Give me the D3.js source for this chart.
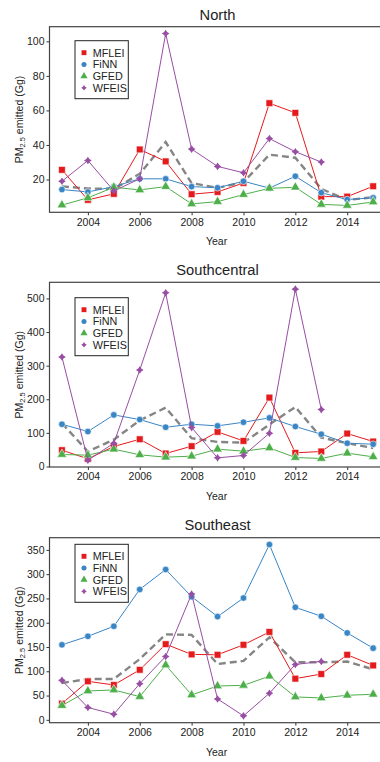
<!DOCTYPE html>
<html>
    <head>
        <title>PM2.5 emitted by region</title>
        <script src="https://d3js.org/d3.v7.min.js"></script>
        <style>
            body {
                margin: 0;
                background: white;
            }
            text {
                font-family: 'Liberation Sans', Arial, sans-serif;
                fill: #222;
            }
            .tick-label {
                font-size: 10.5px;
            }
            .title-text {
                font-size: 14.7px;
            }
            .legend-text {
                font-size: 10.8px;
            }
        </style>
    </head>
    <body>
        <svg id='canvas' width=380 height=762></svg>
        <script>
            // years on the x axis
            const years = [2003, 2004, 2005, 2006, 2007, 2008, 2009, 2010, 2011, 2012, 2013, 2014, 2015]
            const xTicks = [2004, 2006, 2008, 2010, 2012, 2014]
            const seriesNames = ['MFLEI', 'FiNN', 'GFED', 'WFEIS']

            // North (Gg), null = no estimate
            const northMFLEI = [25.6, 8.2, 11.7, 37.4, 30.5, 11.5, 12.8, 18, 64.2, 58.6, 10.1, 10.1, 16.1]
            const northFiNN = [14.2, 12.8, 15.9, 20.4, 20.4, 15.9, 15.2, 19, 15, 21.9, 12.4, 8.4, 9.4]
            const northGFED = [5.2, 9.4, 15.5, 14, 15.9, 5.9, 7.2, 11.3, 14.9, 15.5, 5.6, 5, 7]
            const northWFEIS = [19, 31, 13.4, 20.4, 104.5, 37.6, 27.6, 23.9, 43.7, 36.1, 30.1, null, null]
            const northMean = [16, 14.8, 14.5, 23.3, 41.7, 17.9, 15.2, 18.4, 34.4, 32.6, 14.6, 8.2, 9.7]
            const northTicks = [20, 40, 60, 80, 100]

            // Southcentral (Gg)
            const scMFLEI = [48.5, 22.8, 59.4, 81, 38.6, 60.4, 103, 76, 205, 40.6, 44.6, 98, 74.3]
            const scFiNN = [125.7, 104, 153.5, 139.6, 116.8, 125.7, 120.8, 131.7, 144.6, 118.8, 96, 69.3, 66.3]
            const scGFED = [35.6, 33.7, 51.5, 34.7, 27.7, 30.7, 51.5, 45.5, 55.4, 26.7, 23.8, 39.6, 28.7]
            const scWFEIS = [325.7, 18.8, 69.3, 287, 516.8, 115.8, 25.7, 32.7, 99, 527.7, 169.3, null, null]
            const scMean = [128.7, 44.6, 80, 137, 175, 84, 73, 71, 125, 177, 86, 69, 55]
            const scTicks = [0, 100, 200, 300, 400, 500]

            // Southeast (Gg)
            const seMFLEI = [33.5, 79.3, 71.8, 103, 155.8, 134.7, 134, 154.5, 181, 84.8, 94.3, 134, 112]
            const seFiNN = [154.5, 172, 192.7, 268.6, 309.6, 253.6, 212.6, 250.9, 361, 231.7, 213.3, 179, 147.6]
            const seGFED = [29.4, 59.5, 61.5, 47.8, 112.8, 51.3, 69.7, 71, 90, 47.2, 45, 50.6, 52.6]
            const seWFEIS = [81.3, 25.3, 11.6, 74.5, 130.5, 259, 43, 8.2, 54.7, 114, 120.3, null, null]
            const seMean = [75.9, 84, 84, 125, 176, 175, 114.8, 121.5, 170, 118.5, 118.5, 120, 104]
            const seTicks = [0, 50, 100, 150, 200, 250, 300, 350]

            // four point star used for WFEIS
            const symbolStar4 = {
                draw(context, size) {
                    const r = Math.sqrt(size) * 0.75
                    const k = r * 0.4
                    context.moveTo(0, -r)
                    context.lineTo(k, -k)
                    context.lineTo(r, 0)
                    context.lineTo(k, k)
                    context.lineTo(0, r)
                    context.lineTo(-k, k)
                    context.lineTo(-r, 0)
                    context.lineTo(-k, -k)
                    context.closePath()
                }
            }

            // colors and marker shapes for each source
            const colors = ['#E41A1C', '#3A85C4', '#4DAF4A', '#984EA3']
            const shapes = [d3.symbolSquare, d3.symbolCircle, d3.symbolTriangle, symbolStar4]
            const markerSize = [46, 34, 40, 26]
            const legendSize = [24, 20, 22, 14]
            const outline = [0.6, 0.6, 0.6, 0]
            const meanColor = '#858585'

            const panels = [
                { title: 'North', series: [northMFLEI, northFiNN, northGFED, northWFEIS], mean: northMean, ticks: northTicks,
                  top: 26.7, bottom: 212.3, titleY: 14.5, legendTop: 40.7 },
                { title: 'Southcentral', series: [scMFLEI, scFiNN, scGFED, scWFEIS], mean: scMean, ticks: scTicks,
                  top: 282.3, bottom: 467, titleY: 269.5, legendTop: 297.7 },
                { title: 'Southeast', series: [seMFLEI, seFiNN, seGFED, seWFEIS], mean: seMean, ticks: seTicks,
                  top: 537.7, bottom: 722.7, titleY: 525, legendTop: 544.3 }
            ]

            const svg = d3.select('#canvas')
            const left = 49.5
            const right = 385.6

            // R style axis range: data extent padded by 4% each side
            const padExtent = ([lo, hi]) => {
                const pad = (hi - lo) * 0.04
                return [lo - pad, hi + pad]
            }

            const xScale = d3.scaleLinear().domain(padExtent(d3.extent(years))).range([left, right])

            const drawPanel = (p) => {
                const g = svg.append('g')
                const allValues = p.series.flat().concat(p.mean).filter(v => v !== null)
                const yScale = d3.scaleLinear().domain(padExtent(d3.extent(allValues))).range([p.bottom, p.top])

                // title
                g.append('text').text(p.title)
                    .attr('x', (left + right) / 2)
                    .attr('y', p.titleY)
                    .attr('text-anchor', 'middle')
                    .attr('dominant-baseline', 'central')
                    .classed('title-text', true)

                // axes
                const yAxis = d3.axisLeft(yScale).tickValues(p.ticks).tickSize(3).tickPadding(2)
                const xAxis = d3.axisBottom(xScale).tickValues(xTicks).tickFormat(d3.format('d')).tickSize(3).tickPadding(3)
                const ya = g.append('g').attr('transform', `translate(${left}, 0)`).call(yAxis)
                const xa = g.append('g').attr('transform', `translate(0, ${p.bottom})`).call(xAxis)
                for (const a of [ya, xa]) {
                    a.select('.domain').remove()
                    a.selectAll('.tick line').attr('stroke', '#333')
                    a.selectAll('.tick text').attr('class', 'tick-label').attr('font-family', null).attr('font-size', null).attr('fill', '#222')
                }

                // axis titles
                g.append('text').text('Year')
                    .attr('x', (left + right) / 2 - 1)
                    .attr('y', p.bottom + 29)
                    .attr('text-anchor', 'middle')
                    .attr('dominant-baseline', 'central')
                    .classed('tick-label', true)

                const yLabel = g.append('text')
                    .attr('transform', `translate(19, ${(p.top + p.bottom) / 2}) rotate(-90)`)
                    .attr('text-anchor', 'middle')
                    .attr('dominant-baseline', 'central')
                    .classed('tick-label', true)
                yLabel.append('tspan').text('PM')
                yLabel.append('tspan').text('2.5').attr('font-size', '7.5px').attr('dy', 2.5)
                yLabel.append('tspan').text(' emitted (Gg)').attr('dy', -2.5)

                // dashed mean line
                const line = d3.line()
                    .defined(d => d[1] !== null)
                    .x(d => xScale(d[0]))
                    .y(d => yScale(d[1]))

                g.append('path')
                    .datum(years.map((y, i) => [y, p.mean[i]]))
                    .attr('d', line)
                    .attr('fill', 'none')
                    .attr('stroke', meanColor)
                    .attr('stroke-width', 2.4)
                    .attr('stroke-dasharray', '7,4')

                // each source: line then markers
                p.series.forEach((values, s) => {
                    const pts = years.map((y, i) => [y, values[i]])
                    g.append('path')
                        .datum(pts)
                        .attr('d', line)
                        .attr('fill', 'none')
                        .attr('stroke', colors[s])
                        .attr('stroke-width', 1)

                    g.selectAll(null)
                        .data(pts.filter(d => d[1] !== null))
                        .enter()
                        .append('path')
                            .attr('d', d3.symbol().type(shapes[s]).size(markerSize[s]))
                            .attr('transform', d => `translate(${xScale(d[0])}, ${yScale(d[1])})`)
                            .attr('fill', colors[s])
                            .attr('stroke', 'white')
                            .attr('stroke-width', outline[s])
                })

                // plot frame
                g.append('rect')
                    .attr('x', left)
                    .attr('y', p.top)
                    .attr('width', right - left)
                    .attr('height', p.bottom - p.top)
                    .attr('fill', 'none')
                    .attr('stroke', '#444')
                    .attr('stroke-width', 1.2)

                // legend
                const lg = g.append('g').attr('transform', `translate(75, ${p.legendTop})`)
                lg.append('rect')
                    .attr('width', 53.3)
                    .attr('height', 58)
                    .attr('fill', 'white')
                    .attr('stroke', '#222')
                    .attr('stroke-width', 1)
                seriesNames.forEach((name, s) => {
                    const cy = 12 + s * 11.7
                    lg.append('path')
                        .attr('d', d3.symbol().type(shapes[s]).size(legendSize[s]))
                        .attr('transform', `translate(9, ${cy})`)
                        .attr('fill', colors[s])
                    lg.append('text').text(name)
                        .attr('x', 17.7)
                        .attr('y', cy)
                        .attr('dominant-baseline', 'central')
                        .classed('legend-text', true)
                })
            }

            panels.forEach(drawPanel)
        </script>
    </body>
</html>
